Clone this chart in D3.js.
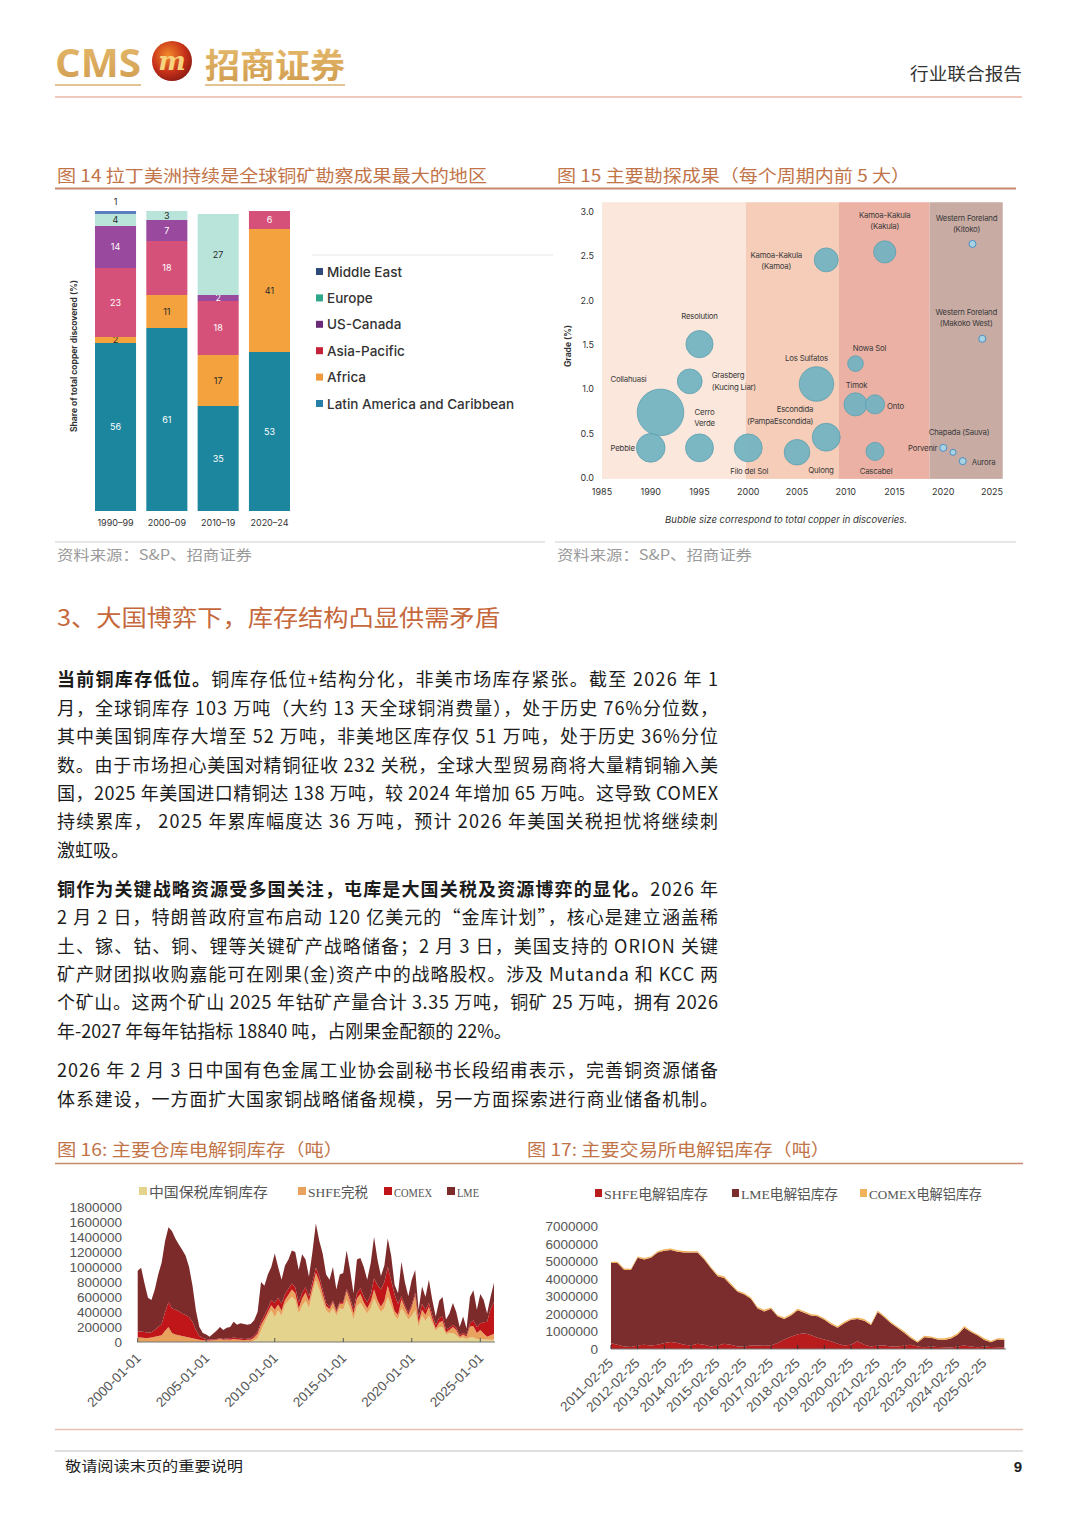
<!DOCTYPE html>
<html><head><meta charset="utf-8">
<script src="https://cdn.jsdelivr.net/npm/d3@7"></script>
<style>html,body{margin:0;padding:0;background:#fff;}svg{display:block;}</style>
</head><body>
<svg id="page" width="1080" height="1528"></svg>
<script>
// ---------------- DATA ----------------
// Fig 14
const periods14 = ["1990–99","2000–09","2010–19","2020–24"];
const regions14 = ["Latin America and Caribbean","Africa","Asia-Pacific","US-Canada","Europe","Middle East"];
const shareLatin  = [56,61,35,53];
const shareAfrica = [2,11,17,41];
const shareAsia   = [23,18,18,6];
const shareUSCan  = [14,7,2,0];
const shareEurope = [4,3,27,0];
const shareMidEast= [1,0,0,0];
const legend14 = ["Middle East","Europe","US-Canada","Asia-Pacific","Africa","Latin America and Caribbean"];

// Fig 15
const deposits = ["Pebble","Collahuasi","Resolution","Grasberg (Kucing Liar)","Cerro Verde","Filo del Sol","Qulong","Kamoa-Kakula (Kamoa)","Los Sulfatos","Escondida (PampaEscondida)","Kamoa-Kakula (Kakula)","Nowa Sol","Timok","Onto","Cascabel","Western Foreland (Kitoko)","Western Foreland (Makoko West)","Porvenir","Chapada (Sauva)","Aurora"];
const discYear  = [1990,1991,1995,1994,1995,2000,2005,2008,2007,2008,2014,2011,2011,2013,2013,2023,2024,2020,2021,2022];
const discGrade = [0.34,0.74,1.51,1.09,0.34,0.34,0.29,2.46,1.06,0.46,2.55,1.29,0.83,0.83,0.30,2.64,1.57,0.34,0.29,0.19];
const discCopperMt = [20,53,18,15,19,19,16,14,29,19,12,6,13,9,8,1.2,1.2,1.2,0.9,1.2];
const periods15 = [[1985,1999.75],[1999.75,2009.3],[2009.3,2018.6],[2018.6,2026.1]];
const xTicks15 = [1985,1990,1995,2000,2005,2010,2015,2020,2025];
const yTicks15 = [0,0.5,1.0,1.5,2.0,2.5,3.0];

// Fig 16 (thousand tonnes, quarterly from 2000-01-01 to 2026-01-01)
const series16 = ["中国保税库铜库存","SHFE完税","COMEX","LME"];
const bonded16 = [0,0,0,0, 0,0,0,0, 0,0,0,0, 0,0,0,0, 0,0,0,0, 0,0,0,0, 0,0,0,0, 0,0,0,0, 0,0,20,50,
  150,250,350,420, 330,420,350,500, 550,600,560,380, 480,550,450,650, 820,700,550,420, 380,450,350,450,
  430,560,450,300, 480,520,450,380, 450,580,480,400, 450,600,480,350, 300,450,380,300, 350,420,200,350,
  280,350,250,150, 200,200,100,120, 120,90,50,60, 40,60,60,40, 40,35,30,30, 30];
const shfe16 = [60,60,55,55, 60,70,80,90, 150,200,120,100, 90,80,70,60, 50,40,30,25, 20,20,25,30, 40,30,35,30,
  40,35,30,25, 30,30,40,60, 80,60,50,70, 100,80,70,60, 80,100,90,70, 100,110,90,80, 100,110,90,60, 60,80,50,60,
  80,120,100,80, 100,120,80,70, 90,120,80,70, 100,150,100,60, 60,120,80,60, 120,200,60,80, 80,120,60,30,
  60,80,30,40, 80,70,20,40, 30,150,150,80, 120,80,40,60, 80];
const comex16 = [80,80,80,70, 70,90,120,150, 250,330,330,330, 320,300,290,270, 220,120,50,30, 20,15,10,10, 10,10,15,20,
  20,20,20,15, 15,20,25,30, 40,45,50,70, 90,90,90,80, 80,80,80,80, 80,70,70,70, 70,70,60,40, 30,25,25,25,
  25,30,40,60, 70,80,80,80, 90,150,200,230, 250,250,240,220, 150,40,35,35, 35,40,70,80, 70,50,50,50,
  60,60,40,30, 30,30,20,25, 20,40,80,80, 90,150,200,350, 420];
const lme16 = [810,850,645,465, 430,540,700,820, 950,1000,1030,950, 890,850,790,670, 480,260,120,65, 60,35,75,110,
  150,120,140,150, 210,175,200,200, 185,190,205,260, 530,395,450,440, 660,410,320,380, 390,440,470,430,
  510,370,260,400, 590,470,480,380, 360,445,275,365, 385,510,370,210, 450,400,390,300, 420,550,340,180,
  220,380,330,130, 140,460,305,215, 325,300,100,230, 170,310,200,110, 230,260,130,190, 290,210,110,215,
  90,350,400,230, 390,295,110,160, 260];
const yTicks16 = [0,200000,400000,600000,800000,1000000,1200000,1400000,1600000,1800000];
const xTickLabels16 = ["2000-01-01","2005-01-01","2010-01-01","2015-01-01","2020-01-01","2025-01-01"];

// Fig 17 (million tonnes, quarterly from 2011-02-25)
const series17 = ["SHFE电解铝库存","LME电解铝库存","COMEX电解铝库存"];
const shfeAl = [0.33,0.25,0.15,0.12,0.2,0.25,0.2,0.25,0.35,0.4, 0.35,0.25,0.2,0.3,0.25,0.15,0.2,0.3,0.25,0.15,
  0.15,0.2,0.2,0.18,0.2,0.35,0.55,0.7,0.85,0.9, 0.8,0.65,0.55,0.45,0.3,0.2,0.25,0.45,0.25,0.15,
  0.2,0.2,0.15,0.15,0.2,0.25,0.15,0.1,0.15,0.12, 0.1,0.08,0.15,0.2,0.15,0.1,0.15,0.12,0.1,0.1];
const lmeAl = [4.59,4.67,4.37,4.40,5.02,4.87,5.02,5.27,5.27,5.27, 5.22,5.27,5.32,5.22,4.87,4.47,3.97,3.77,3.42,3.12,
  2.97,2.67,2.12,1.97,2.10,1.52,1.17,1.22,1.37,1.17, 1.12,1.22,1.12,0.97,0.92,1.27,1.42,1.27,1.37,1.22,
  1.92,1.62,1.32,1.05,0.72,0.37,0.22,0.57,0.49,0.42, 0.42,0.52,0.67,1.02,0.82,0.67,0.37,0.26,0.44,0.42];
const comexAl = [0.08,0.08,0.09,0.08,0.08,0.09,0.08,0.08,0.09,0.08, 0.08,0.09,0.08,0.08,0.09,0.08,0.08,0.09,0.08,0.08,
  0.09,0.08,0.08,0.09,0.08,0.08,0.09,0.08,0.08,0.09, 0.08,0.08,0.09,0.08,0.08,0.09,0.08,0.08,0.09,0.08,
  0.08,0.09,0.08,0.08,0.09,0.08,0.08,0.09,0.08,0.08, 0.09,0.08,0.08,0.09,0.08,0.08,0.09,0.08,0.08,0.08];
const yTicks17 = [0,1000000,2000000,3000000,4000000,5000000,6000000,7000000];
const xTickLabels17 = ["2011-02-25","2012-02-25","2013-02-25","2014-02-25","2015-02-25","2016-02-25","2017-02-25","2018-02-25","2019-02-25","2020-02-25","2021-02-25","2022-02-25","2023-02-25","2024-02-25","2025-02-25"];

// ---------------- STYLE ----------------
const CJK = "'Noto Sans CJK SC','Noto Sans',sans-serif";
const SANS = "Inter,'Liberation Sans',sans-serif";
const ARIAL = "'Liberation Sans',Arial,sans-serif";
const SERIF = "'Liberation Serif','Noto Sans CJK SC',serif";
const titleColor = "#c27449";
const barColors = {"Latin America and Caribbean":"#1b869e","Africa":"#f4a23e","Asia-Pacific":"#d6517a","US-Canada":"#9a4a9e","Europe":"#b9e4da","Middle East":"#5a7fc0"};
const legColors = {"Latin America and Caribbean":"#2580a8","Africa":"#ef9a3c","Asia-Pacific":"#c42238","US-Canada":"#6a2a78","Europe":"#2ea68a","Middle East":"#2e4a78"};
const darkLabel = {"Africa":1,"Europe":1,"Middle East":1};
const bgColors15 = ["#fbe7dc","#f5cdb9","#eab1a4","#c8aba3"];
const colors16 = {"中国保税库铜库存":"#e3d38c","SHFE完税":"#e9a25e","COMEX":"#c0161a","LME":"#7d2a2a"};
const colors17 = {"SHFE电解铝库存":"#b81c1c","LME电解铝库存":"#7b2c2c","COMEX电解铝库存":"#f2b25a"};

const svg = d3.select("#page");

function txt(x,y,s,o){
  const t = svg.append("text").attr("x",x).attr("y",y).text(s);
  o = o||{};
  t.attr("font-family",o.ff||CJK).attr("font-size",o.fs||14).attr("fill",o.fill||"#222");
  if(o.fw) t.attr("font-weight",o.fw);
  if(o.anchor) t.attr("text-anchor",o.anchor);
  if(o.len) t.attr("textLength",o.len).attr("lengthAdjust","spacingAndGlyphs");
  if(o.style) t.attr("font-style",o.style);
  return t;
}
function line(x1,y1,x2,y2,c,w){ svg.append("line").attr("x1",x1).attr("y1",y1).attr("x2",x2).attr("y2",y2).attr("stroke",c).attr("stroke-width",w||1); }

// ---------------- HEADER ----------------
const defs = svg.append("defs");
const rg = defs.append("radialGradient").attr("id","logoG").attr("cx","40%").attr("cy","35%").attr("r","70%");
rg.append("stop").attr("offset","0%").attr("stop-color","#f08a2a");
rg.append("stop").attr("offset","60%").attr("stop-color","#c8321a");
rg.append("stop").attr("offset","100%").attr("stop-color","#8a1a12");
const gg = defs.append("linearGradient").attr("id","goldG").attr("x1","0").attr("y1","0").attr("x2","0").attr("y2","1");
gg.append("stop").attr("offset","0%").attr("stop-color","#e8bd70");
gg.append("stop").attr("offset","100%").attr("stop-color","#cf9a4c");
txt(55,77,"CMS",{ff:"'Open Sans',sans-serif",fs:40,fw:700,fill:"url(#goldG)",len:86});
svg.append("circle").attr("cx",172).attr("cy",61).attr("r",20).attr("fill","url(#logoG)");
txt(172,70,"m",{ff:"'DejaVu Serif',serif",fs:26,fw:700,fill:"#f6d27e",anchor:"middle",style:"italic"});
txt(205,78,"招商证券",{fs:34,fw:700,fill:"url(#goldG)",len:140});
line(55,85,141,85,"#d9b070",1.5);
line(205,85,345,85,"#d9b070",1.5);
line(55,97,1022,97,"#e9b7a6",1.5);
txt(1022,80,"行业联合报告",{fs:17,fill:"#333",anchor:"end",len:112});

// ---------------- FIG 14/15 TITLES ----------------
txt(57,182,"图 14 拉丁美洲持续是全球铜矿勘察成果最大的地区",{fs:17,fill:titleColor,len:430});
txt(557,182,"图 15  主要勘探成果（每个周期内前 5 大）",{fs:17,fill:titleColor,len:353});
line(55,188.5,1016,188.5,"#c7896b",2);
line(55,542,545,542,"#cfcfcf",1);
line(555,542,1016,542,"#cfcfcf",1);
txt(57,560,"资料来源：S&P、招商证券",{fs:14,fill:"#9a9a9a",len:195});
txt(557,560,"资料来源：S&P、招商证券",{fs:14,fill:"#9a9a9a",len:195});

// ---------------- FIG 14 ----------------
(function(){
  const rows = periods14.map((p,i)=>({period:p,
    "Latin America and Caribbean":shareLatin[i],"Africa":shareAfrica[i],"Asia-Pacific":shareAsia[i],
    "US-Canada":shareUSCan[i],"Europe":shareEurope[i],"Middle East":shareMidEast[i]}));
  const x = d3.scaleBand().domain(periods14).range([95,290]).paddingInner(0.2);
  const y = d3.scaleLinear().domain([0,100]).range([511,211]);
  const st = d3.stack().keys(regions14)(rows);
  const g = svg.append("g");
  st.forEach(layer=>{
    layer.forEach(d=>{
      const v = d[1]-d[0];
      if(v<=0) return;
      g.append("rect").attr("x",x(d.data.period)).attr("width",x.bandwidth())
        .attr("y",y(d[1])).attr("height",y(d[0])-y(d[1])).attr("fill",barColors[layer.key]);
      const cx = x(d.data.period)+x.bandwidth()/2;
      let cy = (y(d[0])+y(d[1]))/2 + 3;
      if(layer.key==="Middle East") cy = y(d[1]) - 6;
      g.append("text").attr("x",cx).attr("y",cy).attr("text-anchor","middle")
        .attr("font-family",SANS).attr("font-size",9)
        .attr("fill",darkLabel[layer.key]?"#2a2a2a":"#ffffff").text(v);
    });
  });
  periods14.forEach(p=>{
    g.append("text").attr("x",x(p)+x.bandwidth()/2).attr("y",526).attr("text-anchor","middle")
      .attr("font-family",SANS).attr("font-size",9).attr("fill","#333").text(p);
  });
  g.append("text").attr("transform","translate(77,356) rotate(-90)").attr("text-anchor","middle")
    .attr("font-family",SANS).attr("font-size",8.5).attr("font-weight",700).attr("fill","#333")
    .text("Share of total copper discovered (%)");
  // legend
  line(312,255,553,255,"#e6e6e6",1);
  legend14.forEach((k,i)=>{
    const yy = 272 + i*26.4;
    g.append("rect").attr("x",316).attr("y",yy-4).attr("width",7).attr("height",7).attr("fill",legColors[k]);
    g.append("text").attr("x",327).attr("y",yy+4.5).attr("font-family",SANS).attr("font-size",13.5)
      .attr("font-weight",500).attr("fill","#333").text(k);
  });
})();

// ---------------- FIG 15 ----------------
(function(){
  const x = d3.scaleLinear().domain([1985,2025]).range([602,992]);
  const y = d3.scaleLinear().domain([0,3]).range([478,212]);
  const r = d3.scaleSqrt().domain([0,53]).range([0,23.3]);
  const g = svg.append("g");
  periods15.forEach((p,i)=>{
    g.append("rect").attr("x",x(p[0])).attr("width",x(p[1])-x(p[0]))
      .attr("y",y(3.11)).attr("height",y(-0.01)-y(3.11)).attr("fill",bgColors15[i]);
  });
  yTicks15.forEach(v=>{
    g.append("text").attr("x",594).attr("y",y(v)+3).attr("text-anchor","end").attr("font-family",SANS)
      .attr("font-size",9).attr("fill","#333").text(d3.format(".1f")(v));
  });
  xTicks15.forEach(v=>{
    g.append("text").attr("x",x(v)).attr("y",495).attr("text-anchor","middle").attr("font-family",SANS)
      .attr("font-size",9).attr("fill","#333").text(v);
  });
  g.append("text").attr("transform","translate(571,346) rotate(-90)").attr("text-anchor","middle")
    .attr("font-family",SANS).attr("font-size",8.5).attr("font-weight",700).attr("fill","#333").text("Grade (%)");
  g.append("text").attr("x",786).attr("y",523).attr("text-anchor","middle").attr("font-family",SANS)
    .attr("font-size",9.5).attr("font-style","italic").attr("fill","#333")
    .text("Bubble size correspond to total copper in discoveries.");
  const idx = d3.range(deposits.length).sort((a,b)=>discCopperMt[b]-discCopperMt[a]);
  idx.forEach(i=>{
    const small = discCopperMt[i] < 2;
    g.append("circle").attr("cx",x(discYear[i])).attr("cy",y(discGrade[i])).attr("r",r(discCopperMt[i]))
      .attr("fill",small?"#a9d3e3":"#74b3c1").attr("fill-opacity",small?1:0.95)
      .attr("stroke",small?"#4b8fc4":"#5c9fb0").attr("stroke-width",small?1:0.8);
  });
  // label layout: [dx, dy(first line), anchor, lines]
  const labelLayout = {
    "Pebble":[-16,3,"end",["Pebble"]],
    "Collahuasi":[-32,-30,"middle",["Collahuasi"]],
    "Resolution":[0,-25,"middle",["Resolution"]],
    "Grasberg (Kucing Liar)":[22,-3,"start",["Grasberg","(Kucing Liar)"]],
    "Cerro Verde":[5,-33,"middle",["Cerro","Verde"]],
    "Filo del Sol":[1,26,"middle",["Filo del Sol"]],
    "Qulong":[24,21,"middle",["Qulong"]],
    "Kamoa-Kakula (Kamoa)":[-50,-2,"middle",["Kamoa-Kakula","(Kamoa)"]],
    "Los Sulfatos":[-10,-23,"middle",["Los Sulfatos"]],
    "Escondida (PampaEscondida)":[-13,-25,"end",["Escondida","(PampaEscondida)"]],
    "Kamoa-Kakula (Kakula)":[0,-34,"middle",["Kamoa-Kakula","(Kakula)"]],
    "Nowa Sol":[14,-13,"middle",["Nowa Sol"]],
    "Timok":[1,-16,"middle",["Timok"]],
    "Onto":[12,5,"start",["Onto"]],
    "Cascabel":[1,23,"middle",["Cascabel"]],
    "Western Foreland (Kitoko)":[-6,-23,"middle",["Western Foreland","(Kitoko)"]],
    "Western Foreland (Makoko West)":[-16,-24,"middle",["Western Foreland","(Makoko West)"]],
    "Porvenir":[-6,3,"end",["Porvenir"]],
    "Chapada (Sauva)":[6,-17,"middle",["Chapada (Sauva)"]],
    "Aurora":[9,4,"start",["Aurora"]]
  };
  deposits.forEach((name,i)=>{
    const L = labelLayout[name];
    const cx = x(discYear[i]), cy = y(discGrade[i]);
    L[3].forEach((s,k)=>{
      g.append("text").attr("x",cx+L[0]).attr("y",cy+L[1]+k*11.5).attr("text-anchor",L[2])
        .attr("font-family",SANS).attr("font-size",7.8).attr("fill","#3a3a3a").attr("letter-spacing",-0.2).text(s);
    });
  });
})();

// ---------------- SECTION + PARAGRAPHS ----------------
txt(57,626,"3、大国博弈下，库存结构凸显供需矛盾",{fs:23,fill:"#c5683c",len:443});
const paraLines = [
  {y:686, j:1, segs:[["当前铜库存低位。",1],["铜库存低位+结构分化，非美市场库存紧张。截至 2026 年 1",0]]},
  {y:715, j:1, segs:[["月，全球铜库存 103 万吨（大约 13 天全球铜消费量），处于历史 76%分位数，",0]]},
  {y:743, j:1, segs:[["其中美国铜库存大增至 52 万吨，非美地区库存仅 51 万吨，处于历史 36%分位",0]]},
  {y:772, j:1, segs:[["数。由于市场担心美国对精铜征收 232 关税，全球大型贸易商将大量精铜输入美",0]]},
  {y:800, j:1, segs:[["国，2025 年美国进口精铜达 138 万吨，较 2024 年增加 65 万吨。这导致 COMEX",0]]},
  {y:828, j:1, segs:[["持续累库， 2025 年累库幅度达 36 万吨，预计 2026 年美国关税担忧将继续刺",0]]},
  {y:857, j:0, segs:[["激虹吸。",0]]},
  {y:896, j:1, segs:[["铜作为关键战略资源受多国关注，屯库是大国关税及资源博弈的显化。",1],["2026 年",0]]},
  {y:924, j:1, segs:[["2 月 2 日，特朗普政府宣布启动 120 亿美元的“金库计划”，核心是建立涵盖稀",0]]},
  {y:953, j:1, segs:[["土、镓、钴、铜、锂等关键矿产战略储备；2 月 3 日，美国支持的 ORION 关键",0]]},
  {y:981, j:1, segs:[["矿产财团拟收购嘉能可在刚果(金)资产中的战略股权。涉及 Mutanda 和 KCC 两",0]]},
  {y:1009, j:1, segs:[["个矿山。这两个矿山 2025 年钴矿产量合计 3.35 万吨，铜矿 25 万吨，拥有 2026",0]]},
  {y:1038, j:0, segs:[["年-2027 年每年钴指标 18840 吨，占刚果金配额的 22%。",0]]},
  {y:1077, j:1, segs:[["2026 年 2 月 3 日中国有色金属工业协会副秘书长段绍甫表示，完善铜资源储备",0]]},
  {y:1106, j:1, segs:[["体系建设，一方面扩大国家铜战略储备规模，另一方面探索进行商业储备机制。",0]]}
];
paraLines.forEach(l=>{
  const t = svg.append("text").attr("x",57).attr("y",l.y).attr("font-family",CJK).attr("font-size",18).attr("fill","#1c1c1c");
  l.segs.forEach(s=>t.append("tspan").attr("font-weight",s[1]?700:400).text(s[0]));
  if(l.j) t.attr("textLength",661).attr("lengthAdjust","spacing");
});

// ---------------- FIG 16/17 TITLES ----------------
txt(57,1156,"图 16:  主要仓库电解铜库存（吨）",{fs:17,fill:titleColor,len:286});
txt(527,1156,"图 17:  主要交易所电解铝库存（吨）",{fs:17,fill:titleColor,len:303});
line(55,1163.5,1023,1163.5,"#c7896b",1.5);

// ---------------- FIG 16 ----------------
(function(){
  const dates = d3.timeMonth.range(new Date(2000,0,1), new Date(2026,0,2), 3);
  const rows = dates.map((d,i)=>({date:d,"中国保税库铜库存":bonded16[i],"SHFE完税":shfe16[i],"COMEX":comex16[i],"LME":lme16[i]}));
  const x = d3.scaleTime().domain([new Date(2000,0,1), new Date(2026,0,1)]).range([137.7,494]);
  const y = d3.scaleLinear().domain([0,1800]).range([1342,1207]);
  const st = d3.stack().keys(series16)(rows);
  const area = d3.area().x(d=>x(d.data.date)).y0(d=>y(d[0])).y1(d=>y(d[1]));
  const g = svg.append("g");
  st.forEach(layer=>g.append("path").attr("d",area(layer)).attr("fill",colors16[layer.key]));
  yTicks16.forEach(v=>{
    g.append("text").attr("x",122).attr("y",y(v/1000)+4.5).attr("text-anchor","end").attr("font-family",ARIAL)
      .attr("font-size",13.5).attr("fill","#555").text(v);
  });
  line(137,1342,495,1342,"#777",1);
  xTickLabels16.forEach(s=>{
    const xx = x(d3.timeParse("%Y-%m-%d")(s));
    line(xx,1342,xx,1338,"#555",1);
    g.append("text").attr("transform",`translate(${xx+4},${1359}) rotate(-45)`).attr("text-anchor","end")
      .attr("font-family",ARIAL).attr("font-size",13.5).attr("fill","#555").text(s);
  });
  const leg = [[139,149,119],[298,308,60],[384,394,38],[447,457,22]];
  series16.forEach((k,i)=>{
    g.append("rect").attr("x",leg[i][0]).attr("y",1187).attr("width",8).attr("height",8).attr("fill",colors16[k]);
    g.append("text").attr("x",leg[i][1]).attr("y",1197).attr("font-family",i===0?CJK:SERIF).attr("font-size",13.5)
      .attr("fill","#555").attr("textLength",leg[i][2]).attr("lengthAdjust","spacingAndGlyphs").text(k);
  });
})();

// ---------------- FIG 17 ----------------
(function(){
  const start = new Date(2011,1,25);
  const dates = lmeAl.map((v,i)=>d3.timeMonth.offset(start,3*i));
  const rows = dates.map((d,i)=>({date:d,"SHFE电解铝库存":shfeAl[i],"LME电解铝库存":lmeAl[i],"COMEX电解铝库存":comexAl[i]}));
  const x = d3.scaleTime().domain([start, new Date(2025,1,25)]).range([611,984.4]);
  const y = d3.scaleLinear().domain([0,7]).range([1349,1226.7]);
  const st = d3.stack().keys(series17)(rows);
  const area = d3.area().x(d=>x(d.data.date)).y0(d=>y(d[0])).y1(d=>y(d[1]));
  const g = svg.append("g");
  st.forEach(layer=>g.append("path").attr("d",area(layer)).attr("fill",colors17[layer.key]));
  yTicks17.forEach(v=>{
    g.append("text").attr("x",598).attr("y",y(v/1e6)+4.5).attr("text-anchor","end").attr("font-family",ARIAL)
      .attr("font-size",13.5).attr("fill","#555").text(v);
  });
  line(611,1349,1006,1349,"#777",1);
  xTickLabels17.forEach(s=>{
    const xx = x(d3.timeParse("%Y-%m-%d")(s));
    line(xx,1349,xx,1345,"#333",1);
    g.append("text").attr("transform",`translate(${xx+3},${1364}) rotate(-45)`).attr("text-anchor","end")
      .attr("font-family",ARIAL).attr("font-size",13.5).attr("fill","#555").text(s);
  });
  const leg = [[595,604,104],[732,741,97],[860,869,113]];
  series17.forEach((k,i)=>{
    g.append("rect").attr("x",leg[i][0]).attr("y",1189).attr("width",7).attr("height",8).attr("fill",colors17[k]);
    const t = g.append("text").attr("x",leg[i][1]).attr("y",1199).attr("font-size",13.5).attr("fill","#555")
      .attr("textLength",leg[i][2]).attr("lengthAdjust","spacingAndGlyphs");
    const m = k.match(/^([A-Z]+)(.*)$/);
    t.append("tspan").attr("font-family",SERIF).text(m[1]);
    t.append("tspan").attr("font-family",CJK).text(m[2]);
  });
})();

// ---------------- FOOTER ----------------
line(55,1429.5,1023,1429.5,"#e6c1b4",1.5);
line(55,1451,1023,1451,"#bdbdbd",1);
txt(65,1471,"敬请阅读末页的重要说明",{fs:14,fill:"#222",len:178});
txt(1022,1472,"9",{ff:ARIAL,fs:15,fw:700,fill:"#222",anchor:"end"});
</script>
</body></html>
